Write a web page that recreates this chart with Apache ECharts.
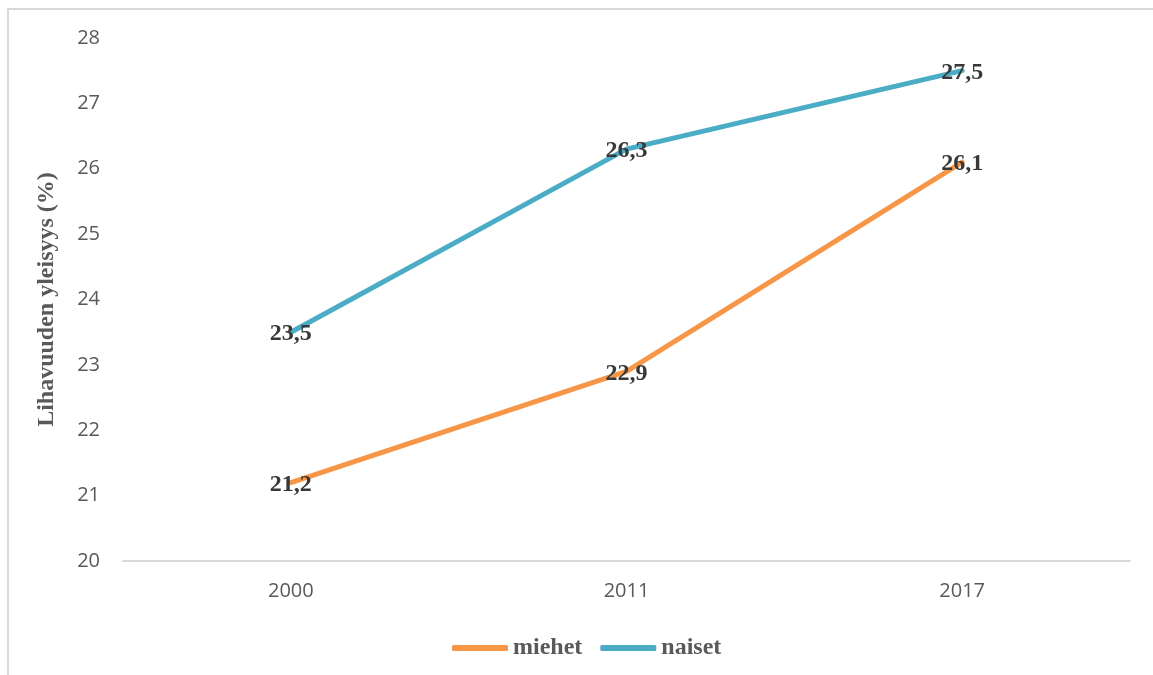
<!DOCTYPE html>
<html>
<head>
<meta charset="utf-8">
<script src="https://cdn.jsdelivr.net/npm/echarts@6/dist/echarts.min.js"></script>
<style>
  html, body { margin: 0; padding: 0; background: #fff; }
  #chart { width: 1153px; height: 675px; }
</style>
</head>
<body>
<div id="chart"></div>
<script>
// Lihavuuden yleisyys vuosina 2000, 2011 ja 2017
const years = ['2000', '2011', '2017'];
const miehet = [21.2, 22.9, 26.1];
const naiset = [23.5, 26.3, 27.5];
const yTicks = { min: 20, max: 28, interval: 1 };

const serif = '"Liberation Serif", "DejaVu Serif", serif';
const sans = '"Open Sans", "Noto Sans", sans-serif';

// value labels sit centred on each point, with a decimal comma
const labelStyle = {
  show: true,
  position: 'inside',
  offset: [0, 2],
  fontFamily: serif,
  fontWeight: 'bold',
  fontSize: 24,
  color: '#383838',
  formatter: p => String(p.value).replace('.', ',')
};

const chart = echarts.init(document.getElementById('chart'));
chart.setOption({
  animation: false,
  backgroundColor: '#ffffff',
  graphic: [{
    type: 'rect',
    shape: { x: 8, y: 9, width: 1200, height: 700 },
    style: { fill: 'none', stroke: '#d9d9d9', lineWidth: 2 },
    silent: true
  }],
  grid: { left: 123, right: 23, top: 38, bottom: 114, containLabel: false },
  legend: {
    top: 631,
    left: 447,
    itemWidth: 56,
    itemHeight: 6,
    itemGap: 18,
    icon: 'roundRect',
    textStyle: { fontFamily: serif, fontWeight: 'bold', fontSize: 24, color: '#595959' },
    data: ['miehet', 'naiset']
  },
  xAxis: {
    type: 'category',
    data: years,
    boundaryGap: true,
    axisLine: { lineStyle: { color: '#d9d9d9', width: 2 } },
    axisTick: { show: false },
    axisLabel: { fontFamily: sans, fontSize: 20, color: '#595959', margin: 20 }
  },
  yAxis: {
    type: 'value',
    min: yTicks.min,
    max: yTicks.max,
    interval: yTicks.interval,
    name: 'Lihavuuden yleisyys (%)',
    nameLocation: 'middle',
    nameGap: 64,
    nameTextStyle: { fontFamily: serif, fontWeight: 'bold', fontSize: 24, color: '#595959' },
    axisLine: { show: false },
    axisTick: { show: false },
    splitLine: { show: false },
    axisLabel: { fontFamily: sans, fontSize: 20, color: '#595959', margin: 23 }
  },
  series: [
    {
      name: 'miehet',
      type: 'line',
      data: miehet,
      symbol: 'circle',
      symbolSize: 0,
      lineStyle: { color: '#f79646', width: 5, cap: 'round', join: 'round' },
      itemStyle: { color: '#f79646' },
      label: labelStyle
    },
    {
      name: 'naiset',
      type: 'line',
      data: naiset,
      symbol: 'circle',
      symbolSize: 0,
      lineStyle: { color: '#4bacc6', width: 5, cap: 'round', join: 'round' },
      itemStyle: { color: '#4bacc6' },
      label: labelStyle
    }
  ]
});
</script>
</body>
</html>
